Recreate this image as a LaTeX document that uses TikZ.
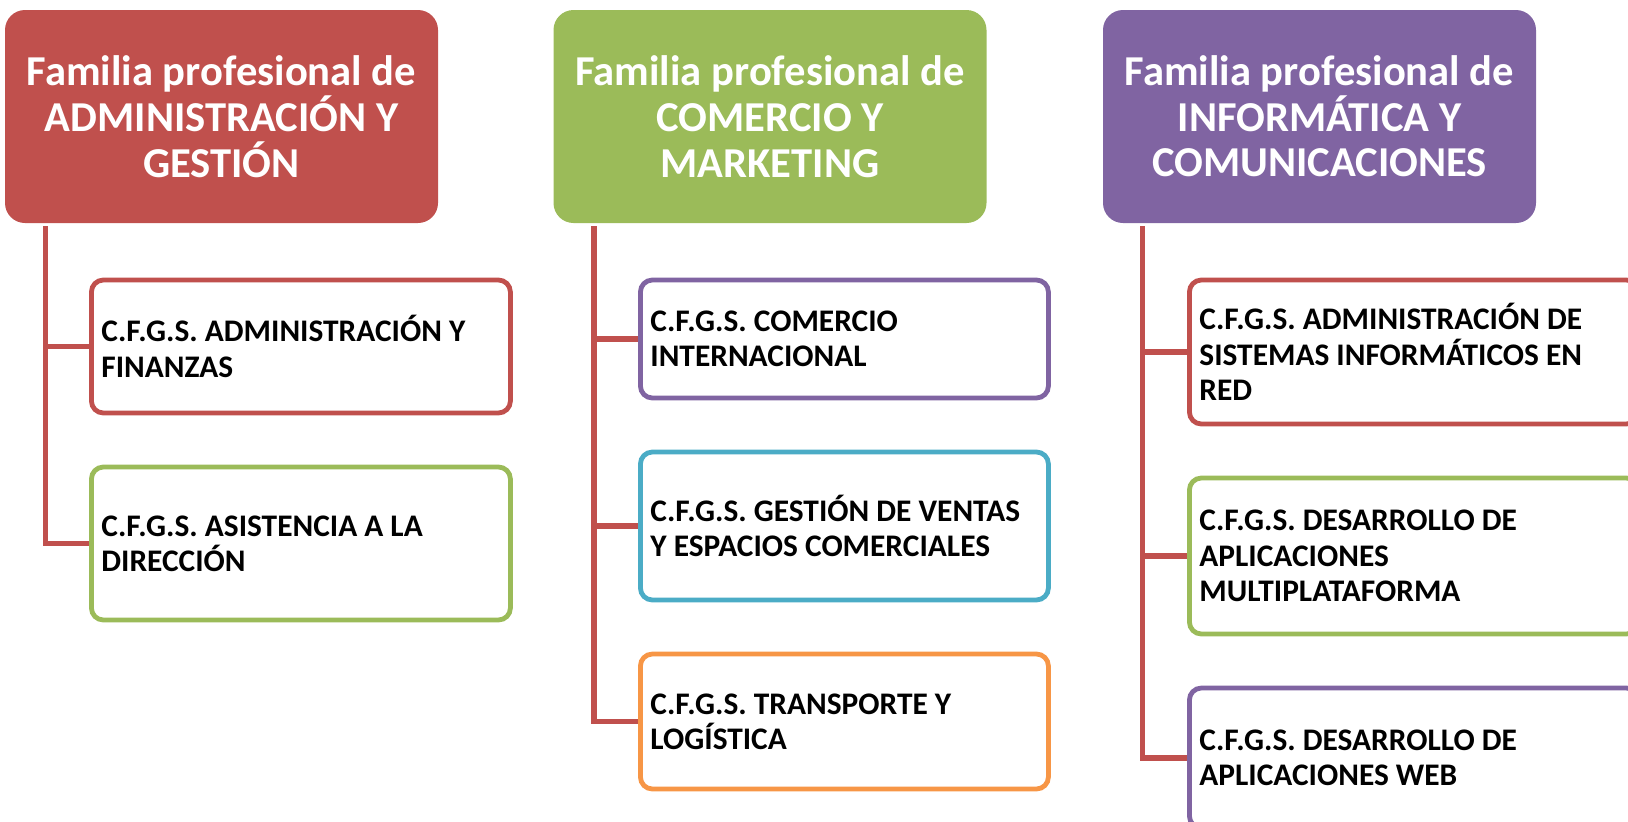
\documentclass[tikz,border=0pt]{standalone}
\usepackage{fontspec}
\setmainfont{Carlito}
\usepackage{xcolor}
\usepackage{tikz}
\usetikzlibrary{positioning}

\definecolor{cred}{HTML}{C0504D}
\definecolor{cgreen}{HTML}{9BBB59}
\definecolor{cpurple}{HTML}{8064A2}
\definecolor{cblue}{HTML}{4BACC6}
\definecolor{corange}{HTML}{F79646}

\tikzset{
  famhead/.style={rectangle, rounded corners=10pt, fill=#1, minimum width=216.5pt, minimum height=106.5pt,
    text=white, align=center, inner sep=0pt, font=\bfseries\fontsize{21.3}{22.85}\selectfont},
  cfgs/.style={rectangle, rounded corners=6pt, draw=#1, line width=2.4pt, fill=white, anchor=west,
    align=flush left, inner xsep=5pt, font=\bfseries\fontsize{15.7}{17.6}\selectfont},
  conn/.style={draw=cred, line width=2.8pt}
}

\begin{document}
\begin{tikzpicture}[x=0.5pt, y=-0.5pt]
\useasboundingbox (0,0) rectangle (1628,821);
\clip (0,0) rectangle (1628,821);

% Familias
\node[famhead=cred] (adm) at (221.5,116.5) {Familia profesional de\\ADMINISTRACIÓN Y\\GESTIÓN};
\node[famhead=cgreen] (com) at (770,116.5) {Familia profesional de\\COMERCIO Y\\MARKETING};
\node[famhead=cpurple] (inf) at (1319.5,116.5) {Familia profesional de\\INFORMÁTICA Y\\COMUNICACIONES};

% Ciclos de administracion
\node[cfgs=cred, minimum width=209.5pt, minimum height=66.5pt, text width=199.5pt] (af) at (89,346.5) {C.F.G.S. ADMINISTRACIÓN Y\\FINANZAS};
\node[cfgs=cgreen, minimum width=209.5pt, minimum height=76.5pt, text width=199.5pt] (ad) at (89,543.5) {C.F.G.S. ASISTENCIA A LA\\DIRECCIÓN};

% Ciclos de comercio
\node[cfgs=cpurple, minimum width=204pt, minimum height=59pt, text width=194pt] (ci) at (638,339) {C.F.G.S. COMERCIO\\INTERNACIONAL};
\node[cfgs=cblue, minimum width=204pt, minimum height=74pt, text width=194pt] (gv) at (638,526) {C.F.G.S. GESTIÓN DE VENTAS\\Y ESPACIOS COMERCIALES};
\node[cfgs=corange, minimum width=204pt, minimum height=67.5pt, text width=194pt] (tl) at (638,721.5) {C.F.G.S. TRANSPORTE Y\\LOGÍSTICA};

% Ciclos de informatica
\node[cfgs=cred, minimum width=224.5pt, minimum height=72pt, text width=214.5pt] (asir) at (1187,352) {C.F.G.S. ADMINISTRACIÓN DE\\SISTEMAS INFORMÁTICOS EN\\RED};
\node[cfgs=cgreen, minimum width=224.5pt, minimum height=78pt, text width=214.5pt] (dam) at (1187,556) {C.F.G.S. DESARROLLO DE\\APLICACIONES\\MULTIPLATAFORMA};
\node[cfgs=cpurple, minimum width=224.5pt, minimum height=70pt, text width=214.5pt] (daw) at (1187,758) {C.F.G.S. DESARROLLO DE\\APLICACIONES WEB};

% Conectores
\coordinate (admbus) at ([shift={(41,3)}]adm.south west);
\coordinate (combus) at ([shift={(41,3)}]com.south west);
\coordinate (infbus) at ([shift={(40,3)}]inf.south west);
\draw[conn] (admbus) |- (af.west);
\draw[conn] (admbus) |- (ad.west);
\draw[conn] (combus) |- (ci.west);
\draw[conn] (combus) |- (gv.west);
\draw[conn] (combus) |- (tl.west);
\draw[conn] (infbus) |- (asir.west);
\draw[conn] (infbus) |- (dam.west);
\draw[conn] (infbus) |- (daw.west);
\end{tikzpicture}
\end{document}
